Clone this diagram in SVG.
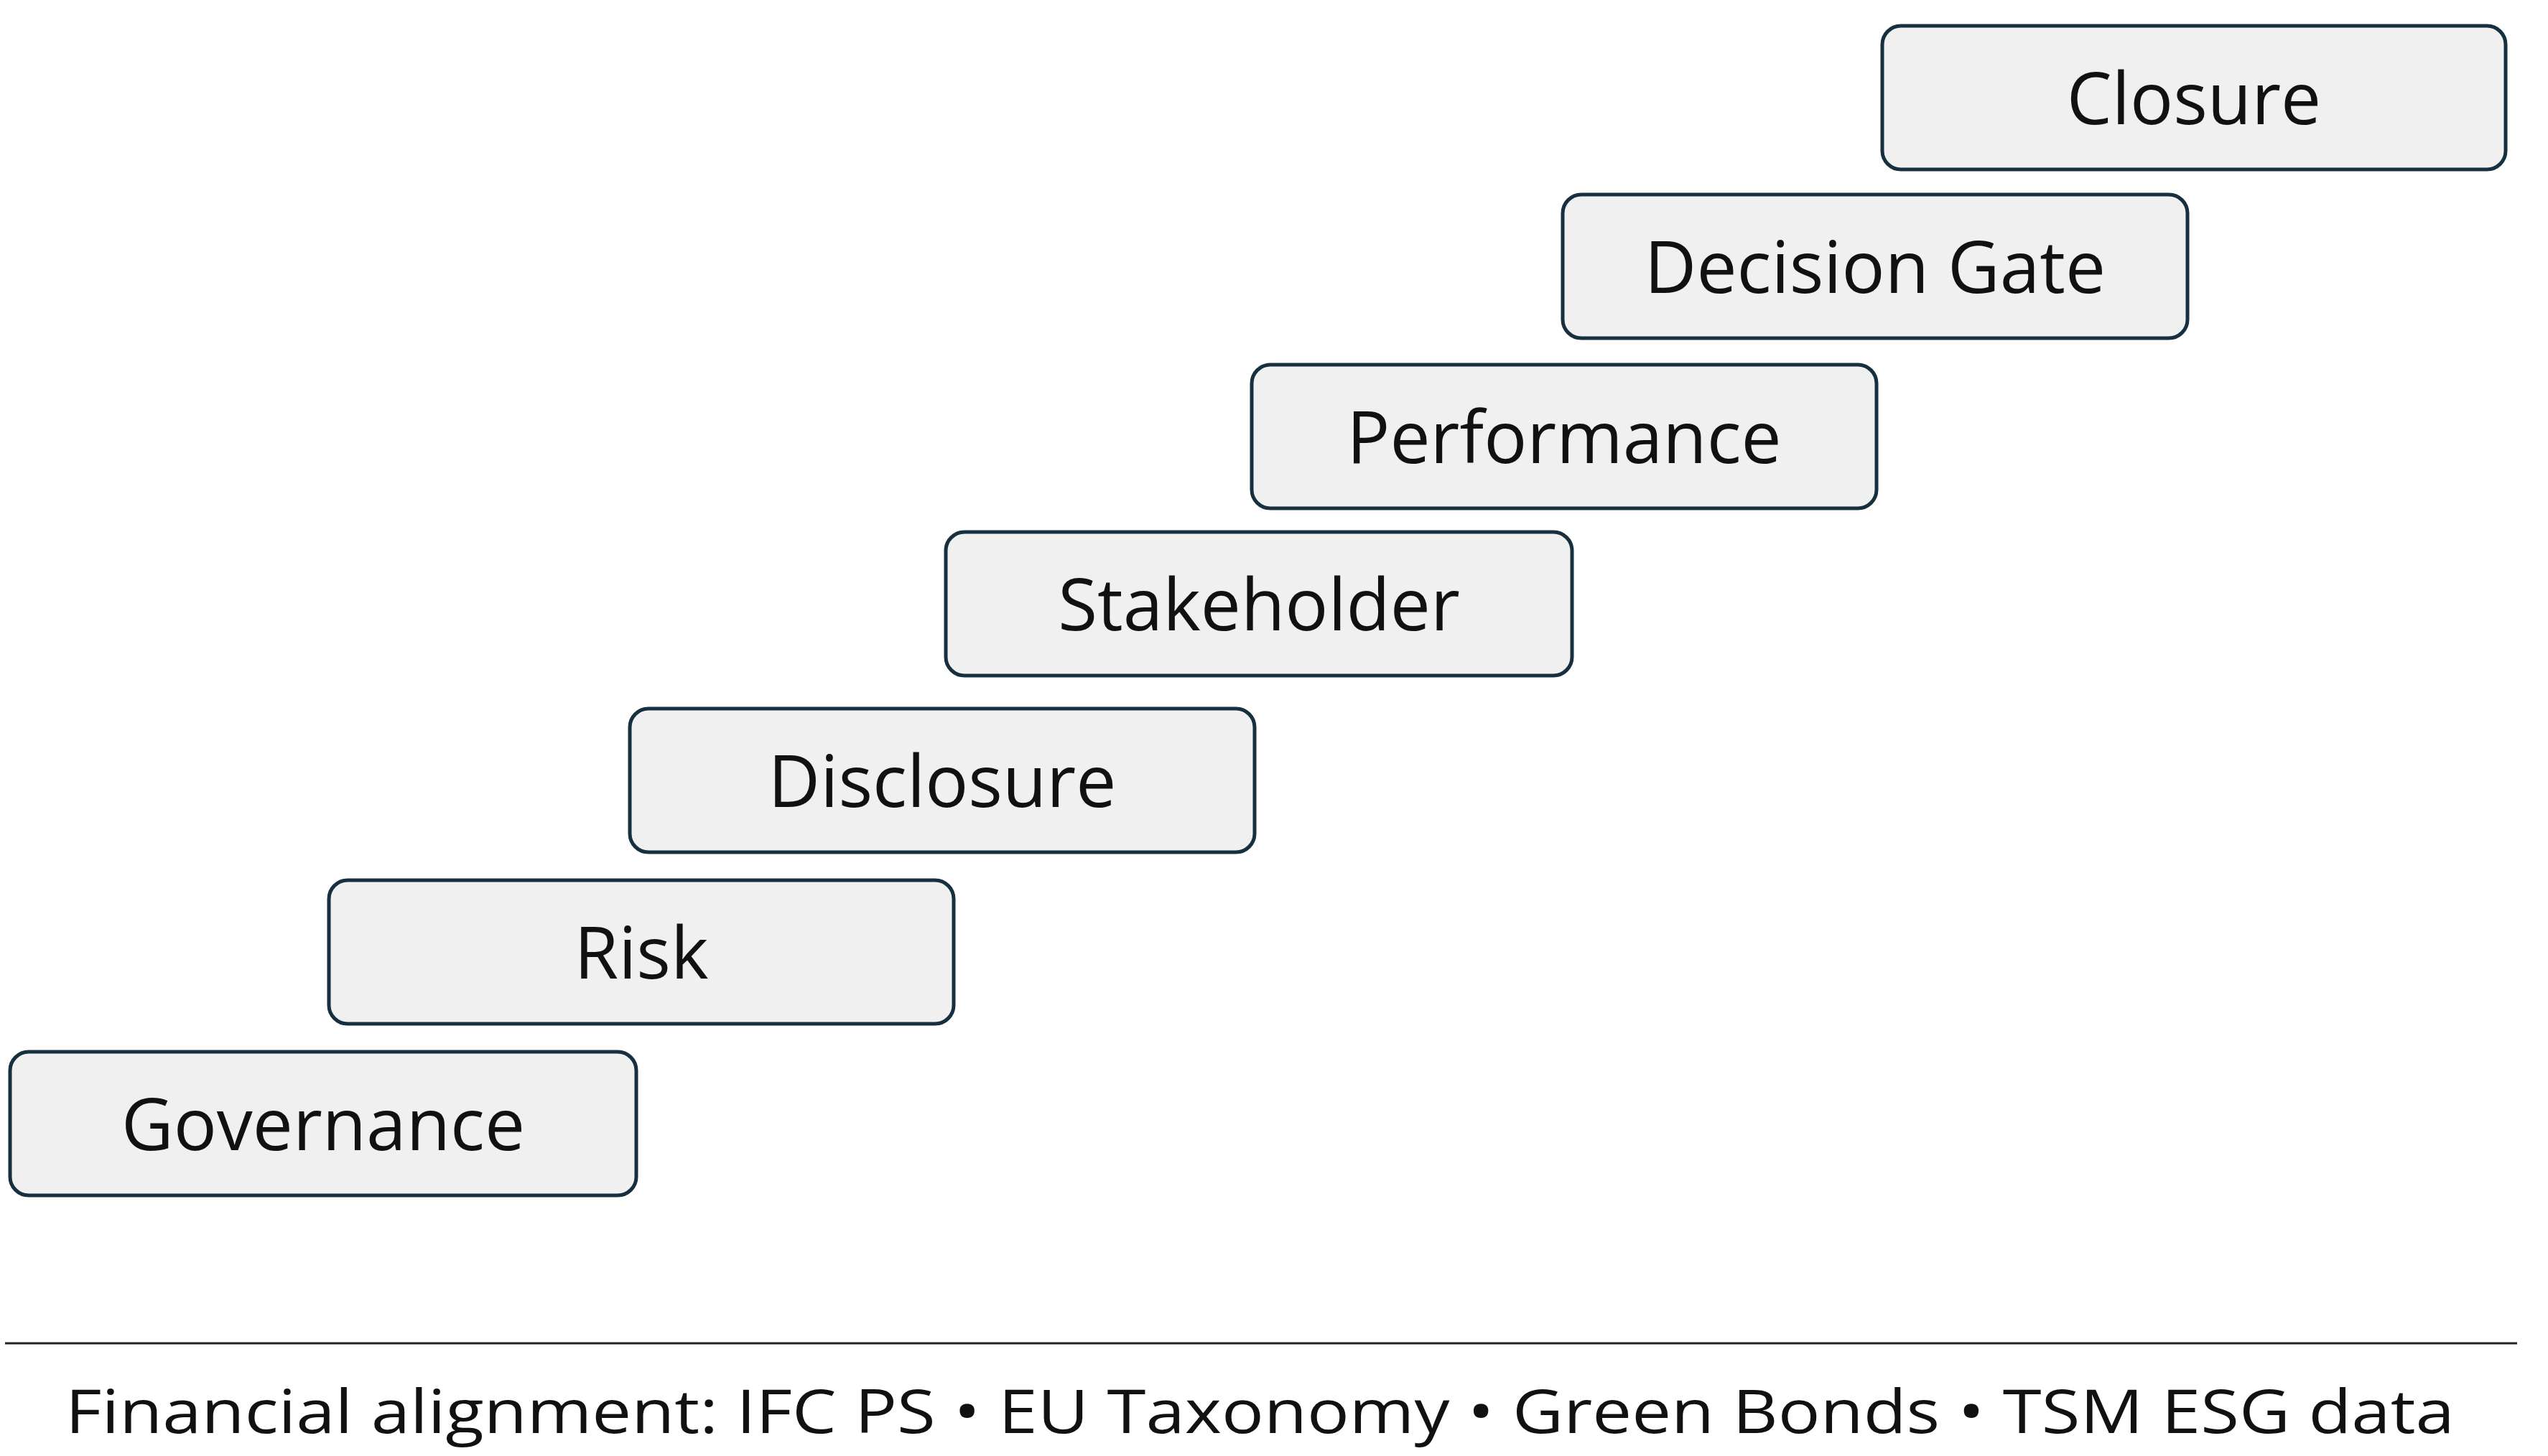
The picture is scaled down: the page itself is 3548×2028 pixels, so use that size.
<svg xmlns="http://www.w3.org/2000/svg" width="3548" height="2028" viewBox="0 0 3548 2028">
<style>
.b{fill:#f0f0f0;stroke:#16303f;stroke-width:5}
.t{font-family:"Open Sans","Liberation Sans",sans-serif;font-size:100px;fill:#111;text-anchor:middle;dominant-baseline:central}
.f{font-family:"Open Sans","Liberation Sans",sans-serif;font-size:84px;fill:#111}
</style>
<rect width="3548" height="2028" fill="#fff"/>
<g id="closure"><rect class="b" x="2621" y="36" width="868" height="200" rx="26"/><text class="t" x="3055" y="134">Closure</text></g>
<g id="decision-gate"><rect class="b" x="2176" y="271" width="870" height="200" rx="26"/><text class="t" x="2611" y="369">Decision Gate</text></g>
<g id="performance"><rect class="b" x="1743" y="508" width="870" height="200" rx="26"/><text class="t" x="2178" y="606">Performance</text></g>
<g id="stakeholder"><rect class="b" x="1317" y="741" width="872" height="200" rx="26"/><text class="t" x="1753" y="839">Stakeholder</text></g>
<g id="disclosure"><rect class="b" x="877" y="987" width="870" height="200" rx="26"/><text class="t" x="1312" y="1085">Disclosure</text></g>
<g id="risk"><rect class="b" x="458" y="1226" width="870" height="200" rx="26"/><text class="t" x="893" y="1324">Risk</text></g>
<g id="governance"><rect class="b" x="14" y="1465" width="872" height="200" rx="26"/><text class="t" x="450" y="1563">Governance</text></g>
<g id="connectors"><line x1="7" y1="1871" x2="3505" y2="1871" stroke="#222" stroke-width="3"/></g>
<text class="f" x="91" y="1996" textLength="3327" lengthAdjust="spacingAndGlyphs">Financial alignment: IFC PS • EU Taxonomy • Green Bonds • TSM ESG data</text>
</svg>
